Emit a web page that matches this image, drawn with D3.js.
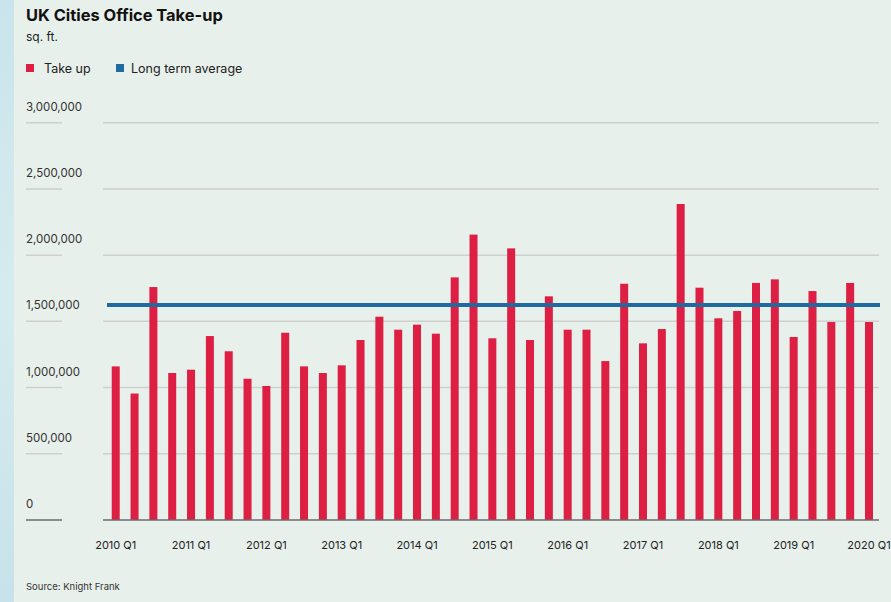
<!DOCTYPE html>
<html>
<head>
<meta charset="utf-8">
<script src="https://cdn.jsdelivr.net/npm/d3@7"></script>
<style>
  body { margin: 0; background: #e8f0eb; }
  svg { display: block; font-family: Inter, "Open Sans", sans-serif; }
</style>
</head>
<body>
<div id="chart"></div>
<script>
// quarters 2010 Q1 .. 2020 Q1
var quarters = [];
for (var yr = 2010; yr <= 2020; yr++) {
  for (var q = 1; q <= 4; q++) {
    if (yr === 2020 && q > 1) break;
    quarters.push(yr + " Q" + q);
  }
}
var takeUp = [
  1160000, 955000, 1759000, 1110000, 1135000, 1389000, 1274000, 1067000,
  1012000, 1414000, 1160000, 1110000, 1168000, 1359000, 1535000, 1437000,
  1475000, 1407000, 1832000, 2155000, 1372000, 2051000, 1359000, 1689000,
  1437000, 1437000, 1200000, 1784000, 1334000, 1442000, 2386000, 1754000,
  1523000, 1578000, 1790000, 1817000, 1382000, 1729000, 1495000, 1790000,
  1495000
];
var longTermAverage = 1623000;
var yTicks = [0, 500000, 1000000, 1500000, 2000000, 2500000, 3000000];
var xTickLabels = quarters.filter(d => d.endsWith("Q1"));

var svgW = 891, svgH = 602;
var svg = d3.select("#chart").append("svg")
  .attr("width", svgW)
  .attr("height", svgH);

svg.append("rect").attr("width", svgW).attr("height", svgH).attr("fill", "#e8f0eb");

// textured blue strip on the left edge
var grad = svg.append("defs").append("linearGradient")
  .attr("id", "strip").attr("x1", 0).attr("y1", 0).attr("x2", 0).attr("y2", 1);
grad.append("stop").attr("offset", "0%").attr("stop-color", "#c9e4ec");
grad.append("stop").attr("offset", "50%").attr("stop-color", "#d6ebef");
grad.append("stop").attr("offset", "100%").attr("stop-color", "#c7e2ea");
svg.append("rect").attr("width", 14).attr("height", svgH).attr("fill", "url(#strip)");

// title, unit, legend
svg.append("text").attr("x", 26).attr("y", 21)
  .attr("font-size", 16.4).attr("font-weight", 700).attr("fill", "#111")
  .text("UK Cities Office Take-up");
svg.append("text").attr("x", 26).attr("y", 41)
  .attr("font-size", 12).attr("fill", "#222")
  .text("sq. ft.");

var legend = [
  {label: "Take up", color: "#dc1f42", x: 26, tx: 18},
  {label: "Long term average", color: "#1f6a9e", x: 116, tx: 15}
];
var lg = svg.selectAll(".legend").data(legend).enter().append("g")
  .attr("transform", d => `translate(${d.x}, 64)`);
lg.append("rect").attr("width", 8).attr("height", 8).attr("fill", d => d.color);
lg.append("text").attr("x", d => d.tx).attr("y", 8.5)
  .attr("font-size", 12.5).attr("fill", "#222")
  .text(d => d.label);

// scales
var x = d3.scaleBand()
  .domain(quarters)
  .range([106.3, 878.4])
  .paddingInner(0.575)
  .paddingOuter(0.2875);

var y = d3.scaleLinear()
  .domain([0, 3000000])
  .range([520, 122.7]);

// gridlines + y labels
var grid = svg.append("g");
yTicks.forEach(function(t) {
  var col = t === 0 ? "#6b6b6b" : "#cfcfcf";
  grid.append("line").attr("x1", 26).attr("x2", 62)
    .attr("y1", y(t)).attr("y2", y(t))
    .attr("stroke", col).attr("stroke-width", 1.5);
  if (t !== 0) {
    grid.append("line").attr("x1", 103).attr("x2", 879)
      .attr("y1", y(t)).attr("y2", y(t))
      .attr("stroke", col).attr("stroke-width", 1.5);
  }
  grid.append("text").attr("x", 26).attr("y", y(t) - 12)
    .attr("font-size", 11.5).attr("fill", "#333")
    .text(d3.format(",")(t));
});

// bars
svg.append("g").selectAll("rect")
  .data(takeUp)
  .enter()
  .append("rect")
  .attr("x", (d, i) => x(quarters[i]))
  .attr("y", d => y(d))
  .attr("width", x.bandwidth())
  .attr("height", d => y(0) - y(d))
  .attr("fill", "#dc1f42");

// baseline
svg.append("line").attr("x1", 103).attr("x2", 879)
  .attr("y1", y(0)).attr("y2", y(0))
  .attr("stroke", "#6b6b6b").attr("stroke-width", 1.5);

// long term average
svg.append("line").attr("x1", 107).attr("x2", 880)
  .attr("y1", y(longTermAverage)).attr("y2", y(longTermAverage))
  .attr("stroke", "#1f6a9e").attr("stroke-width", 4);

// x labels
svg.append("g").selectAll("text")
  .data(xTickLabels)
  .enter()
  .append("text")
  .attr("x", d => x(d) + x.bandwidth() / 2)
  .attr("y", 549)
  .attr("text-anchor", "middle")
  .attr("font-size", 11).attr("fill", "#222")
  .text(d => d);

svg.append("text").attr("x", 26).attr("y", 590)
  .attr("font-size", 9.5).attr("fill", "#333")
  .text("Source: Knight Frank");
</script>
</body>
</html>
